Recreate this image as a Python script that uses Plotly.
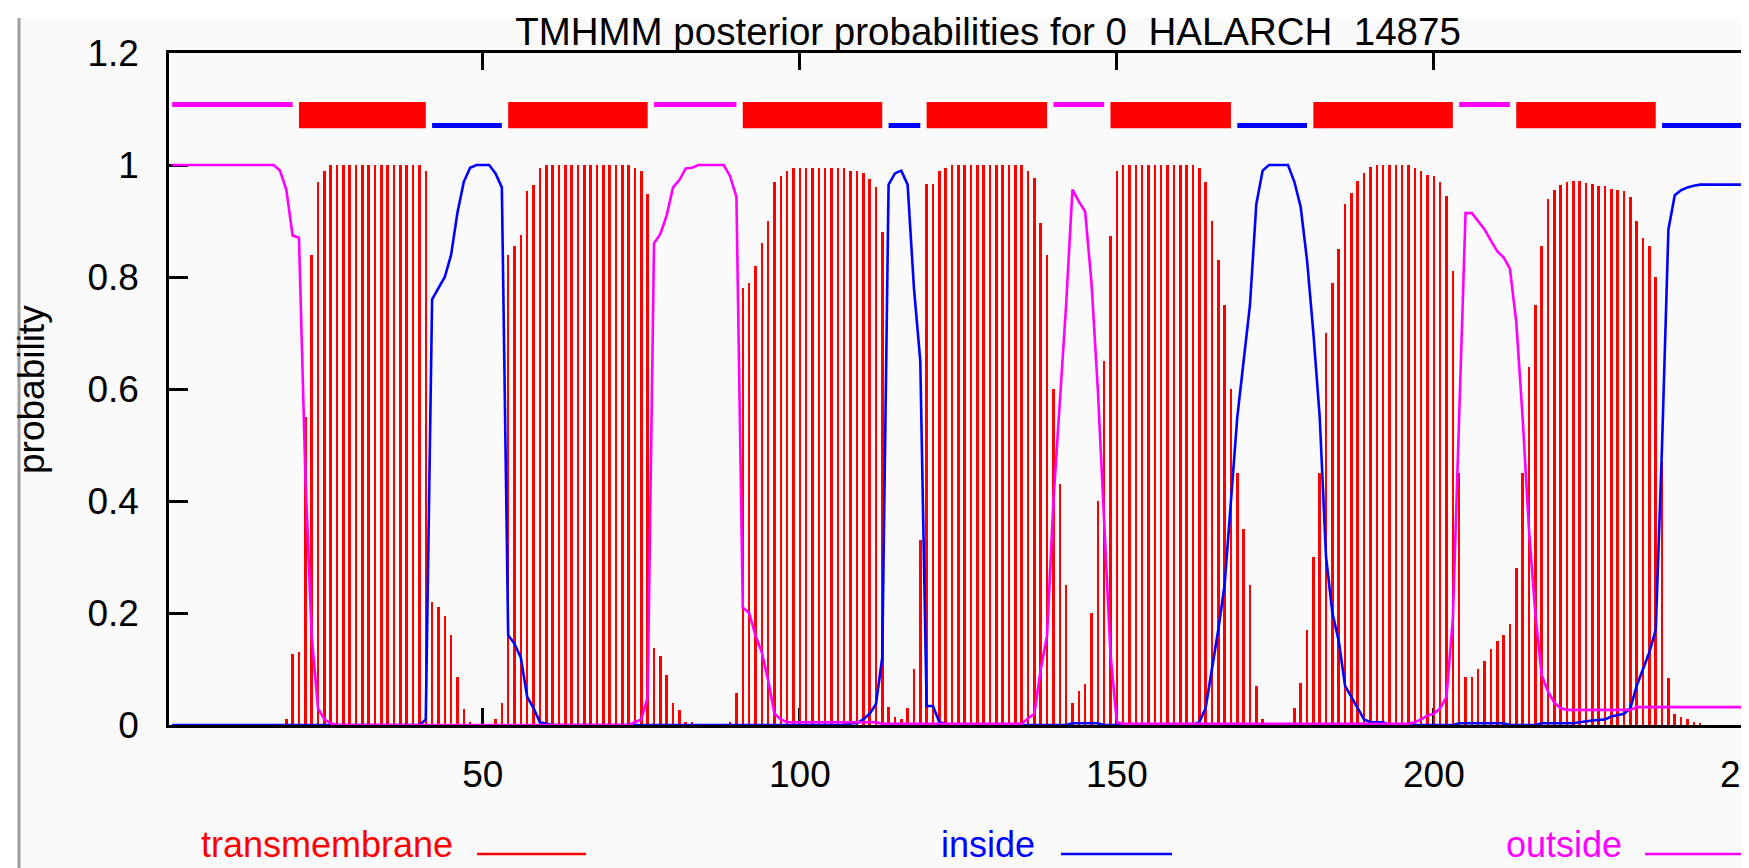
import plotly.graph_objects as go

# ---------------- data ----------------
residues = list(range(1, 250))

tm_prob = [
    0, 0, 0, 0, 0, 0, 0, 0, 0, 0,
    0, 0, 0, 0, 0, 0, 0, 0, 0.01, 0.126,
    0.13, 0.55, 0.84, 0.97, 0.99, 1, 1, 1, 1, 1,
    1, 1, 1, 1, 1, 1, 1, 1, 1, 1,
    0.99, 0.22, 0.21, 0.195, 0.16, 0.085, 0.028, 0.005, 0, 0,
    0, 0.01, 0.04, 0.84, 0.855, 0.875, 0.953, 0.965, 0.995, 1,
    1, 1, 1, 1, 1, 1, 1, 1, 1, 1,
    1, 1, 1, 0.995, 0.99, 0.948, 0.1375, 0.123, 0.09, 0.04,
    0.027, 0.006, 0.005, 0, 0, 0, 0, 0, 0.005, 0.057,
    0.78, 0.79, 0.82, 0.86, 0.9, 0.97, 0.98, 0.99, 0.995, 0.995,
    0.995, 0.995, 0.995, 0.995, 0.995, 0.995, 0.995, 0.99, 0.99, 0.985,
    0.975, 0.96, 0.88, 0.033, 0.015, 0.01, 0.03, 0.1, 0.33, 0.966,
    0.966, 0.99, 0.995, 1, 1, 1, 1, 1, 1, 1,
    1, 1, 1, 1, 1, 0.99, 0.976, 0.896, 0.84, 0.6,
    0.43, 0.25, 0.04, 0.06, 0.073, 0.2, 0.4, 0.65, 0.873, 0.99,
    1, 1, 1, 1, 1, 1, 1, 1, 1, 1,
    1, 1, 0.995, 0.97, 0.9, 0.83, 0.75, 0.6, 0.45, 0.35,
    0.25, 0.07, 0.01, 0, 0, 0, 0, 0.03, 0.075, 0.17,
    0.3, 0.45, 0.7, 0.79, 0.85, 0.93, 0.95, 0.971, 0.986, 0.996,
    1, 1, 1, 1, 1, 1, 0.995, 0.99, 0.983, 0.98,
    0.97, 0.945, 0.81, 0.45, 0.086, 0.086, 0.1, 0.115, 0.135, 0.15,
    0.16, 0.18, 0.28, 0.45, 0.64, 0.75, 0.855, 0.94, 0.955, 0.965,
    0.97, 0.972, 0.972, 0.968, 0.966, 0.962, 0.962, 0.958, 0.956, 0.953,
    0.943, 0.9, 0.87, 0.855, 0.8, 0.47, 0.084, 0.02, 0.015, 0.01,
    0.005, 0.003, 0, 0, 0, 0, 0, 0, 0,
]

inside_prob = [
    0, 0, 0, 0, 0, 0, 0, 0, 0, 0,
    0, 0, 0, 0, 0, 0, 0, 0, 0, 0,
    0, 0, 0, 0, 0, 0, 0, 0, 0, 0,
    0, 0, 0, 0, 0, 0, 0, 0, 0, 0,
    0.01, 0.76, 0.78, 0.8, 0.84, 0.915, 0.97, 0.995, 1, 1,
    1, 0.985, 0.96, 0.16, 0.145, 0.12, 0.05, 0.03, 0.005, 0.002,
    0, 0, 0, 0, 0, 0, 0, 0, 0, 0,
    0, 0, 0, 0, 0, 0, 0, 0, 0, 0,
    0, 0, 0, 0, 0, 0, 0, 0, 0, 0,
    0, 0, 0, 0, 0, 0, 0, 0, 0, 0,
    0, 0, 0, 0, 0, 0, 0, 0.003, 0.003, 0.01,
    0.02, 0.037, 0.12, 0.965, 0.985, 0.99, 0.965, 0.78, 0.65, 0.034,
    0.034, 0.005, 0.003, 0, 0, 0, 0, 0, 0, 0,
    0, 0, 0, 0, 0, 0, 0, 0, 0, 0,
    0, 0, 0.003, 0.003, 0.003, 0.003, 0.003, 0, 0, 0,
    0, 0, 0, 0, 0, 0, 0, 0, 0, 0,
    0, 0, 0.005, 0.03, 0.1, 0.17, 0.25, 0.4, 0.55, 0.65,
    0.75, 0.93, 0.99, 1, 1, 1, 1, 0.97, 0.925, 0.83,
    0.7, 0.55, 0.3, 0.2, 0.15, 0.07, 0.05, 0.03, 0.01, 0.005,
    0.005, 0.005, 0, 0, 0, 0, 0, 0, 0, 0,
    0, 0, 0, 0.003, 0.003, 0.003, 0.003, 0.003, 0.003, 0.003,
    0.003, 0, 0, 0, 0, 0, 0.003, 0.003, 0.003, 0.003,
    0.003, 0.003, 0.005, 0.007, 0.008, 0.009, 0.01, 0.015, 0.018, 0.02,
    0.03, 0.07, 0.1, 0.13, 0.17, 0.5, 0.885, 0.946, 0.955, 0.96,
    0.963, 0.965, 0.965, 0.965, 0.965, 0.965, 0.965, 0.965, 0.965,
]

outside_prob = [
    1, 1, 1, 1, 1, 1, 1, 1, 1, 1,
    1, 1, 1, 1, 1, 1, 1, 0.99, 0.956, 0.874,
    0.87, 0.45, 0.16, 0.03, 0.01, 0.003, 0, 0, 0, 0,
    0, 0, 0, 0, 0, 0, 0, 0, 0, 0,
    0, 0, 0, 0, 0, 0, 0, 0, 0, 0,
    0, 0, 0, 0, 0, 0, 0, 0, 0, 0,
    0, 0, 0, 0, 0, 0, 0, 0, 0, 0,
    0, 0, 0, 0.005, 0.01, 0.05, 0.86, 0.877, 0.91, 0.96,
    0.973, 0.994, 0.995, 1, 1, 1, 1, 1, 0.98, 0.943,
    0.21, 0.2, 0.16, 0.13, 0.08, 0.02, 0.01, 0.005, 0.005, 0.005,
    0.005, 0.005, 0.005, 0.005, 0.005, 0.005, 0.005, 0.005, 0.005, 0.005,
    0.005, 0.005, 0.002, 0.002, 0.002, 0.002, 0.002, 0.002, 0.002, 0.002,
    0.002, 0.002, 0.002, 0.002, 0.002, 0.002, 0.002, 0.002, 0.002, 0.002,
    0.002, 0.002, 0.002, 0.002, 0.002, 0.012, 0.02, 0.1, 0.16, 0.4,
    0.57, 0.75, 0.956, 0.935, 0.917, 0.79, 0.6, 0.35, 0.127, 0.005,
    0.002, 0.002, 0.002, 0.002, 0.002, 0.002, 0.002, 0.002, 0.002, 0.002,
    0.002, 0.002, 0.002, 0.002, 0.002, 0.002, 0.002, 0.002, 0.002, 0.002,
    0.002, 0.002, 0.002, 0.002, 0.002, 0.002, 0.002, 0.002, 0.002, 0.002,
    0.002, 0.002, 0.002, 0.002, 0.002, 0.002, 0.002, 0.002, 0.002, 0.002,
    0.002, 0.002, 0.002, 0.002, 0.002, 0.002, 0.005, 0.01, 0.017, 0.02,
    0.03, 0.05, 0.19, 0.55, 0.914, 0.914, 0.9, 0.885, 0.865, 0.846,
    0.835, 0.815, 0.72, 0.55, 0.35, 0.2, 0.09, 0.06, 0.04, 0.03,
    0.027, 0.027, 0.027, 0.027, 0.027, 0.027, 0.027, 0.027, 0.027, 0.027,
    0.027, 0.032, 0.032, 0.032, 0.032, 0.032, 0.032, 0.032, 0.032, 0.032,
    0.032, 0.032, 0.032, 0.032, 0.032, 0.032, 0.032, 0.032, 0.032,
]

# predicted topology (TMHMM)
topo_type = ["outside", "TMhelix", "inside", "TMhelix", "outside", "TMhelix", "inside",
             "TMhelix", "outside", "TMhelix", "inside", "TMhelix", "outside", "TMhelix", "inside"]
topo_start = [1, 21, 42, 54, 77, 91, 114, 120, 140, 149, 169, 181, 204, 213, 236]
topo_end = [20, 41, 53, 76, 90, 113, 119, 139, 148, 168, 180, 203, 212, 235, 249]

x_tick_vals = [50, 100, 150, 200, 250]
y_tick_vals = [0, 0.2, 0.4, 0.6, 0.8, 1.0, 1.2]
y_tick_text = ["0", "0.2", "0.4", "0.6", "0.8", "1", "1.2"]

title_text = "TMHMM posterior probabilities for 0 \u00a0HALARCH \u00a014875"
legend_labels = ["transmembrane", "inside", "outside"]

# ---------------- style ----------------
RED = "#ff0000"
BLUE = "#0000ff"
MAGENTA = "#ff00ff"
FONT = "Liberation Sans, Arial, Helvetica, sans-serif"
W, H = 1749, 868
L, R, T, B = 161, 0, 45, 151
PW, PH = W - L - R, H - T - B


def px_x(px):
    return (px - L) / PW


def px_y(py):
    return (H - B - py) / PH


topo_style = {
    "TMhelix": (RED, 1.0655, 1.1125),
    "outside": (MAGENTA, 1.1035, 1.1125),
    "inside": (BLUE, 1.066, 1.075),
}

fig = go.Figure()
fig.add_trace(go.Bar(x=residues, y=tm_prob, width=0.4,
                     marker=dict(color=RED, line=dict(width=0)),
                     name="transmembrane", showlegend=False))
fig.add_trace(go.Scatter(x=residues, y=inside_prob, mode="lines",
                         line=dict(color=BLUE, width=2.6), name="inside",
                         showlegend=False))
fig.add_trace(go.Scatter(x=residues, y=outside_prob, mode="lines",
                         line=dict(color=MAGENTA, width=2.6), name="outside",
                         showlegend=False))

shapes = []
# gnuplot canvas background + frame
shapes.append(dict(type="rect", xref="paper", yref="paper", layer="below",
                   x0=px_x(11), x1=px_x(1736), y0=px_y(866), y1=px_y(10),
                   fillcolor="#fafafa", line=dict(width=0)))
shapes.append(dict(type="line", xref="paper", yref="paper", layer="below",
                   x0=px_x(11), x1=px_x(11), y0=px_y(866), y1=px_y(10),
                   line=dict(color="#a0a0a0", width=3)))
shapes.append(dict(type="line", xref="paper", yref="paper", layer="below",
                   x0=px_x(11), x1=px_x(1736), y0=px_y(865), y1=px_y(865),
                   line=dict(color="#a0a0a0", width=3)))

# topology bar
for kind, s, e in zip(topo_type, topo_start, topo_end):
    col, y0, y1 = topo_style[kind]
    shapes.append(dict(type="rect", xref="x", yref="y", layer="above",
                       x0=s, x1=e, y0=y0, y1=y1, fillcolor=col,
                       line=dict(width=0)))

# legend samples (gnuplot style: text then line)
legend_cols = [RED, BLUE, MAGENTA]
legend_text_right = [446, 1028, 1615]
legend_line = [(469, 578), (1053, 1164), (1637, 1740)]
annotations = []
for lab, col, xr, (a, b) in zip(legend_labels, legend_cols, legend_text_right, legend_line):
    annotations.append(dict(text=lab, xref="paper", yref="paper", x=px_x(xr), y=px_y(836),
                            xanchor="right", yanchor="middle", showarrow=False,
                            borderpad=0,
                            font=dict(family=FONT, size=36, color=col)))
    shapes.append(dict(type="line", xref="paper", yref="paper", layer="above",
                       x0=px_x(a), x1=px_x(b), y0=px_y(846), y1=px_y(846),
                       line=dict(color=col, width=2.6)))

# crop of the gnuplot image on the right side
shapes.append(dict(type="rect", xref="paper", yref="paper", layer="above",
                   x0=px_x(1736), x1=1.05, y0=-0.4, y1=1.2,
                   fillcolor="#ffffff", line=dict(width=0)))

annotations.append(dict(text="probability", xref="paper", yref="paper",
                        x=px_x(23), y=px_y(382), textangle=-90,
                        xanchor="center", yanchor="middle", showarrow=False,
                        font=dict(family=FONT, size=37, color="#000000")))

fig.update_layout(
    width=W, height=H,
    margin=dict(l=L, r=R, t=T, b=B, pad=0, autoexpand=False),
    paper_bgcolor="#ffffff",
    plot_bgcolor="rgba(0,0,0,0)",
    bargap=0,
    showlegend=False,
    title=dict(text=title_text, x=980 / W, xref="container", xanchor="center",
               y=1 - 24 / H, yref="container", yanchor="middle",
               font=dict(family=FONT, size=38.5, color="#000000")),
    xaxis=dict(range=[0.5, 0.5 + PW / 6.34], tickmode="array", tickvals=x_tick_vals,
               ticks="inside", ticklen=17, tickwidth=2.5, tickcolor="#000000",
               showline=True, linecolor="#000000", linewidth=2.5, mirror="ticks",
               showgrid=False, zeroline=False, layer="below traces",
               ticklabelstandoff=15, ticklabeloverflow="allow", automargin=False,
               tickfont=dict(family=FONT, size=37, color="#000000")),
    yaxis=dict(range=[0, 1.2], tickmode="array", tickvals=y_tick_vals, ticktext=y_tick_text,
               ticks="inside", ticklen=19, tickwidth=2.5, tickcolor="#000000",
               showline=True, linecolor="#000000", linewidth=2.5, mirror=False,
               showgrid=False, zeroline=False, layer="below traces",
               ticklabelstandoff=20, automargin=False,
               tickfont=dict(family=FONT, size=37, color="#000000")),
    shapes=shapes,
    annotations=annotations,
)

fig.write_html("out.html")
